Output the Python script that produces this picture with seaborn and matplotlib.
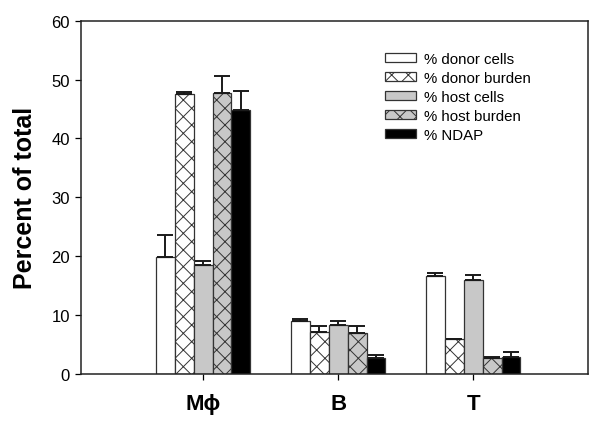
import matplotlib
matplotlib.use("Agg")
import matplotlib.pyplot as plt
import seaborn as sns
import pandas as pd
import numpy as np
from matplotlib.patches import Patch

categories = ["Mϕ", "B", "T"]
series = ["% donor cells", "% donor burden", "% host cells", "% host burden", "% NDAP"]
donor_cells = [19.9, 9.0, 16.7]
donor_burden = [47.6, 7.1, 5.9]
host_cells = [18.5, 8.3, 15.9]
host_burden = [47.7, 6.9, 2.7]
ndap = [44.8, 2.7, 2.8]
donor_cells_err = [3.7, 0.3, 0.5]
donor_burden_err = [0.3, 1.1, 0.1]
host_cells_err = [0.7, 0.7, 0.9]
host_burden_err = [2.9, 1.3, 0.1]
ndap_err = [3.2, 0.5, 0.9]

values = [donor_cells, donor_burden, host_cells, host_burden, ndap]
errors = [donor_cells_err, donor_burden_err, host_cells_err, host_burden_err, ndap_err]

rows = []
for s, vals in zip(series, values):
    for c, v in zip(categories, vals):
        rows.append({"cat": c, "series": s, "value": v})
df = pd.DataFrame(rows)

sns.set_style("ticks")
plt.rcParams["font.family"] = ["Liberation Sans", "DejaVu Sans"]
plt.rcParams["hatch.color"] = "#7a7a7a"
plt.rcParams["hatch.linewidth"] = 0.7
plt.rcParams["text.color"] = "black"
plt.rcParams["axes.labelcolor"] = "black"
plt.rcParams["xtick.color"] = "black"
plt.rcParams["ytick.color"] = "black"

fig = plt.figure(figsize=(6, 4.27), dpi=100)
ax = fig.add_axes([0.135, 0.122, 0.845, 0.827])

fills = ["white", "white", "#c8c8c8", "#c8c8c8", "black"]
hatches = [None, "xx", None, "xx", None]

sns.barplot(data=df, x="cat", y="value", hue="series", order=categories,
            hue_order=series, palette=fills, width=0.7, errorbar=None,
            saturation=1, edgecolor="#333333", linewidth=0.9, ax=ax, legend=False)

bar_containers = list(ax.containers)
for i, cont in enumerate(bar_containers):
    xs = []
    tops = []
    for p in cont.patches:
        p.set_facecolor(fills[i])
        if hatches[i]:
            p.set_hatch(hatches[i])
        xs.append(p.get_x() + p.get_width() / 2)
        tops.append(p.get_height())
    ax.errorbar(xs, tops, yerr=[np.zeros(len(tops)), errors[i]], fmt="none",
                ecolor="#1a1a1a", elinewidth=1.4, capsize=5.5, capthick=1.4, zorder=1)

ax.set_ylim(0, 60)
ax.set_xlim(-0.904, 2.85)
ax.set_yticks([0, 10, 20, 30, 40, 50, 60])
ax.tick_params(axis="y", labelsize=12, length=4, width=0.9, pad=4)
ax.tick_params(axis="x", labelsize=16, length=4, width=0.9, pad=10)
for lab in ax.get_xticklabels():
    lab.set_fontweight("bold")
ax.set_xlabel("")
ax.set_ylabel("Percent of total", fontsize=18, fontweight="bold", labelpad=10)
for sp in ax.spines.values():
    sp.set_visible(True)
    sp.set_linewidth(1.1)
    sp.set_color("#222222")

handles = [Patch(facecolor=fills[i], edgecolor="#333333", linewidth=0.9,
                 hatch=hatches[i] if hatches[i] else None) for i in range(5)]
ax.legend(handles, series, loc="upper left", bbox_to_anchor=(0.6, 0.912),
          frameon=False, fontsize=10.8, handlelength=2.07, handleheight=0.6,
          labelspacing=0.33, handletextpad=0.55, borderpad=0, borderaxespad=0)

fig.savefig("out.png", dpi=100)
